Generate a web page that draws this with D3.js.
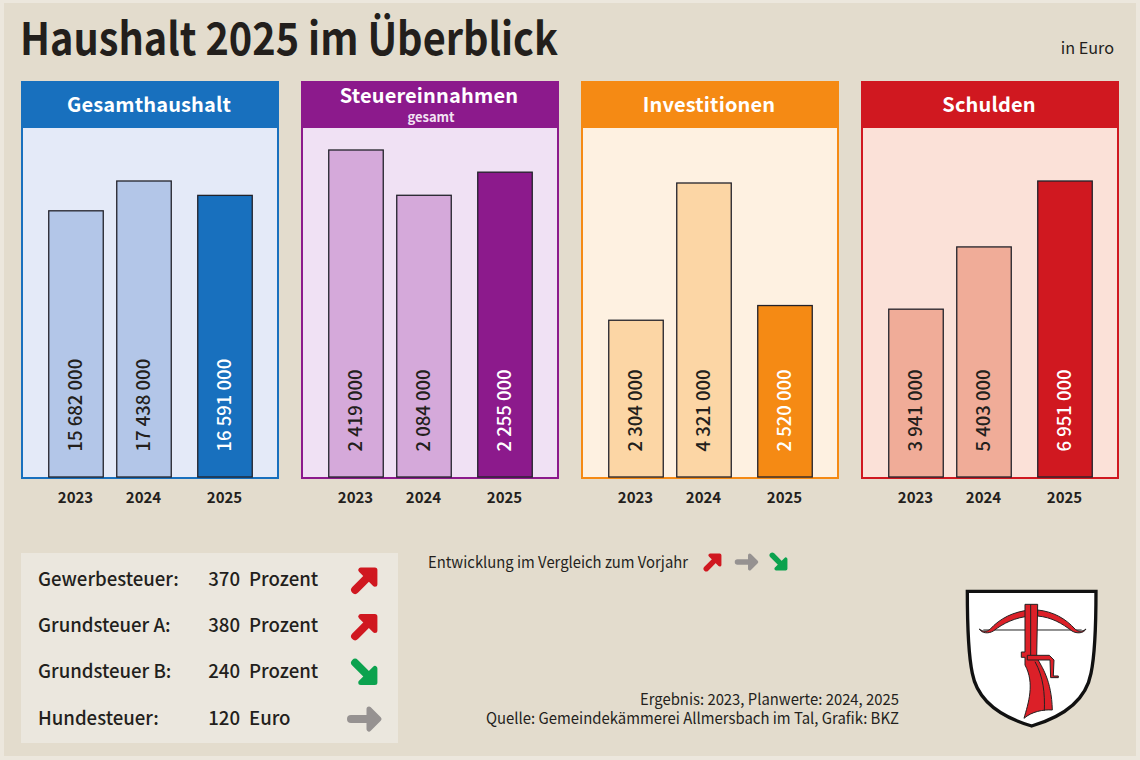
<!DOCTYPE html>
<html>
<head>
<meta charset="utf-8">
<script src="https://cdn.jsdelivr.net/npm/d3@7"></script>
<style>
  html, body { margin: 0; padding: 0; background: #ece7dd; }
  svg { display: block; }
  text { font-family: "Noto Sans CJK SC", "Noto Sans", sans-serif; fill: #231f1c; }
</style>
</head>
<body>
<div id="chart"></div>
<script>
const years = ["2023", "2024", "2025"];
const panelNames = ["Gesamthaushalt", "Steuereinnahmen", "Investitionen", "Schulden"];
const gesamthaushalt = [15682000, 17438000, 16591000];
const steuereinnahmen = [2419000, 2084000, 2255000];
const investitionen = [2304000, 4321000, 2520000];
const schulden = [3941000, 5403000, 6951000];

const taxNames = ["Gewerbesteuer:", "Grundsteuer A:", "Grundsteuer B:", "Hundesteuer:"];
const taxValues = [370, 380, 240, 120];
const taxUnits = ["Prozent", "Prozent", "Prozent", "Euro"];
const taxTrends = ["up", "up", "down", "flat"];

const panelSeries = [gesamthaushalt, steuereinnahmen, investitionen, schulden];
const panelColors = [
  { main: "#1870be", bg: "#e4eaf8", bar: "#b3c6e8" },
  { main: "#8c1a8c", bg: "#f0e1f4", bar: "#d5a9da" },
  { main: "#f58a14", bg: "#fef1e1", bar: "#fcd6a5" },
  { main: "#d01820", bg: "#fbe1d8", bar: "#f0ac98" }
];
// height of the tallest bar differs per panel
const panelTops = [181, 150, 183, 181];
const trendColors = { up: "#d01820", down: "#0ba24e", flat: "#969291" };
const trendAngles = { up: -45, down: 45, flat: 0 };

const width = 1140, height = 760;
const panelW = 258, panelY = 81, headH = 47, baseY = 477;

const svg = d3.select("#chart").append("svg")
  .attr("width", width)
  .attr("height", height);

svg.append("rect")
  .attr("x", 4).attr("y", 3)
  .attr("width", width - 8).attr("height", height - 7)
  .attr("fill", "#e3dccd");

// the original type is narrower than the installed fonts, so squeeze to the measured width
svg.append("text")
  .attr("x", 20).attr("y", 55)
  .attr("font-size", 45).attr("font-weight", 700)
  .attr("textLength", 538).attr("lengthAdjust", "spacingAndGlyphs")
  .text("Haushalt 2025 im Überblick");

svg.append("text")
  .attr("x", 1114).attr("y", 54)
  .attr("text-anchor", "end")
  .attr("font-size", 16.2)
  .text("in Euro");

const panelX = d3.scalePoint()
  .domain(panelNames)
  .range([21, 861]);

const x = d3.scaleOrdinal()
  .domain(years)
  .range([55, 123, 204]);
const barW = 54.5;

panelNames.forEach((name, i) => {
  const col = panelColors[i];
  const values = panelSeries[i];
  const g = svg.append("g").attr("transform", `translate(${panelX(name)},0)`);

  g.append("rect")
    .attr("x", 1).attr("y", panelY + 1)
    .attr("width", panelW - 2).attr("height", baseY - panelY)
    .attr("fill", col.bg)
    .attr("stroke", col.main)
    .attr("stroke-width", 2);

  g.append("rect")
    .attr("x", 0).attr("y", panelY)
    .attr("width", panelW).attr("height", headH)
    .attr("fill", col.main);

  const y = d3.scaleLinear()
    .domain([0, d3.max(values)])
    .range([baseY, panelTops[i]]);

  g.selectAll(".bar")
    .data(values)
    .join("rect")
    .attr("class", "bar")
    .attr("x", (d, j) => x(years[j]) - barW / 2)
    .attr("y", d => y(d))
    .attr("width", barW)
    .attr("height", d => baseY - y(d))
    .attr("fill", (d, j) => j === 2 ? col.main : col.bar)
    .attr("stroke", "#22222a")
    .attr("stroke-width", 1.3);

  g.selectAll(".val")
    .data(values)
    .join("text")
    .attr("class", "val")
    .attr("transform", (d, j) => `translate(${x(years[j]) + 6},451.5) rotate(-90)`)
    .attr("font-size", 18.5)
    .attr("font-weight", 500)
    .style("fill", (d, j) => j === 2 ? "#fff" : "#231f1c")
    .text(d => d3.format(",")(d).replace(/,/g, " "));

  const axis = g.append("g")
    .attr("transform", `translate(-1,${baseY})`)
    .call(d3.axisBottom(x).tickSize(0).tickPadding(15));
  axis.select(".domain").remove();
  axis.selectAll("text")
    .attr("font-size", 15)
    .attr("font-weight", 600);
  axis.attr("font-family", null).attr("font-size", null);

  const sub = i === 1;
  g.append("text")
    .attr("x", panelW / 2 - 1).attr("y", sub ? 103 : 112)
    .attr("text-anchor", "middle")
    .attr("font-size", 20).attr("font-weight", 700)
    .style("fill", "#fff")
    .style("letter-spacing", "0.15px")
    .text(name);
  if (sub) {
    g.append("text")
      .attr("x", panelW / 2 + 1).attr("y", 122)
      .attr("text-anchor", "middle")
      .attr("font-size", 13).attr("font-weight", 700)
      .style("fill", "#f3e3f3")
      .text("gesamt");
  }
});

// tax table
svg.append("rect")
  .attr("x", 21).attr("y", 553)
  .attr("width", 377).attr("height", 190)
  .attr("fill", "#ebe7de");

const rowY = d3.scalePoint()
  .domain(taxNames)
  .range([579, 718]);

function arrow(parent, cx, cy, trend, s) {
  const a = parent.append("g")
    .attr("transform", `translate(${cx},${cy}) rotate(${trendAngles[trend]}) scale(${s})`)
    .attr("fill", "none")
    .attr("stroke", trendColors[trend])
    .attr("stroke-linecap", "round")
    .attr("stroke-linejoin", "round");
  a.append("path")
    .attr("d", "M-14,0 H10")
    .attr("stroke-width", 8);
  a.append("path")
    .attr("d", "M4,-10 L14,0 L4,10 Z")
    .attr("fill", trendColors[trend])
    .attr("stroke-width", 5);
}

taxNames.forEach((name, i) => {
  const yy = rowY(name);
  svg.append("text")
    .attr("x", 38).attr("y", yy + 6.5)
    .attr("font-size", 18.6).attr("font-weight", 500)
    .text(name);
  svg.append("text")
    .attr("x", 240).attr("y", yy + 6.5)
    .attr("text-anchor", "end")
    .attr("font-size", 18.6).attr("font-weight", 500)
    .text(taxValues[i]);
  svg.append("text")
    .attr("x", 249).attr("y", yy + 6.5)
    .attr("font-size", 18.6).attr("font-weight", 500)
    .text(taxUnits[i]);
  arrow(svg, 365, yy + 1, taxTrends[i], 1);
});

// legend
svg.append("text")
  .attr("x", 428).attr("y", 568)
  .attr("font-size", 15.5)
  .attr("textLength", 260).attr("lengthAdjust", "spacingAndGlyphs")
  .text("Entwicklung im Vergleich zum Vorjahr");
arrow(svg, 713, 562, "up", 0.68);
arrow(svg, 747, 562, "flat", 0.68);
arrow(svg, 779, 562, "down", 0.68);

// source
svg.append("text")
  .attr("x", 640).attr("y", 705)
  .attr("font-size", 15.5)
  .attr("textLength", 259).attr("lengthAdjust", "spacingAndGlyphs")
  .text("Ergebnis: 2023, Planwerte: 2024, 2025");
svg.append("text")
  .attr("x", 486).attr("y", 724)
  .attr("font-size", 15.5)
  .attr("textLength", 413).attr("lengthAdjust", "spacingAndGlyphs")
  .text("Quelle: Gemeindekämmerei Allmersbach im Tal, Grafik: BKZ");

// coat of arms
const crest = svg.append("g").attr("transform", "translate(940,570) scale(0.3333)");
crest.append("path")
  .attr("d", "M82,64 H468 C468,150 466,250 453,310 C438,390 370,440 275,468 C180,440 112,390 97,310 C84,250 82,150 82,64 Z")
  .attr("fill", "#fff").attr("stroke", "#111").attr("stroke-width", 10);
crest.append("path")
  .attr("d", "M130,180 H425")
  .attr("stroke", "#222").attr("stroke-width", 3);
crest.append("path")
  .attr("d", "M118,177 C130,186 140,186 150,178 C180,145 220,125 270,120 L272,138 C225,142 190,160 160,183 C145,192 125,190 118,177 Z M438,177 C426,186 416,186 406,178 C376,145 340,125 293,120 L293,138 C335,142 366,160 396,183 C411,192 431,190 438,177 Z")
  .attr("fill", "#dc2028").attr("stroke", "#222").attr("stroke-width", 3);
crest.append("path")
  .attr("d", "M255,103 H293 L290,262 C305,290 335,330 337,420 C310,418 275,425 252,445 C265,400 285,340 255,285 L255,262 H244 V246 H255 Z")
  .attr("fill", "#dc2028").attr("stroke", "#222").attr("stroke-width", 3);
crest.append("path")
  .attr("d", "M272,103 V255 M285,275 C310,320 315,370 313,422")
  .attr("fill", "none").attr("stroke", "#222").attr("stroke-width", 3);
crest.append("path")
  .attr("d", "M262,256 H328 L342,270 L340,318 H355 V323 H332 L330,270 H262 Z")
  .attr("fill", "#dc2028").attr("stroke", "#222").attr("stroke-width", 3);
</script>
</body>
</html>
